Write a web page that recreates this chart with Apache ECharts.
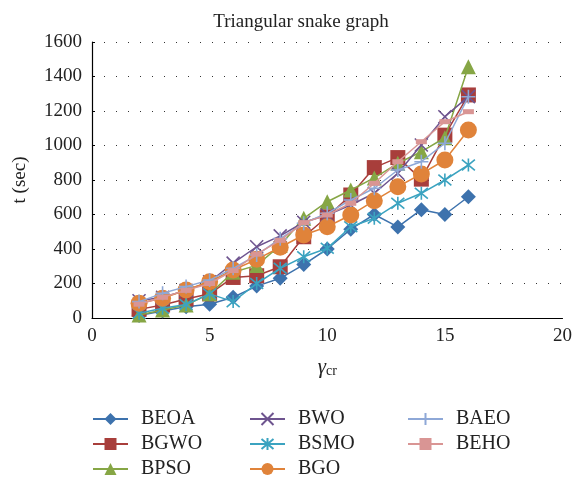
<!DOCTYPE html>
<html><head><meta charset="utf-8">
<script src="https://cdn.jsdelivr.net/npm/echarts@6/dist/echarts.min.js"></script>
<style>html,body{margin:0;padding:0;background:#fff}#c{width:575px;height:480px}</style>
</head><body><div id="c"></div>
<script>
const xValues = [2, 3, 4, 5, 6, 7, 8, 9, 10, 11, 12, 13, 14, 15, 16];
const BEOA = [15, 40, 65, 80, 120, 185, 230, 310, 400, 515, 600, 528, 628, 600, 703];
const BGWO = [50, 75, 110, 140, 235, 245, 297, 471, 587, 713, 872, 930, 805, 1060, 1293];
const BPSO = [17, 46, 75, 140, 265, 305, 420, 578, 674, 742, 812, 897, 964, 1045, 1457];
const BWO = [100, 120, 160, 210, 318, 413, 476, 555, 597, 655, 723, 839, 1003, 1167, 1283];
const BSMO = [27, 56, 78, 140, 95, 200, 288, 355, 404, 529, 578, 665, 723, 800, 887];
const BGO = [85, 114, 162, 210, 278, 340, 410, 481, 529, 597, 680, 761, 835, 916, 1090];
const BAEO = [95, 143, 182, 220, 288, 365, 460, 549, 607, 684, 752, 858, 906, 1013, 1283];
const BEHO = [80, 120, 160, 200, 275, 370, 450, 553, 597, 665, 781, 906, 1022, 1138, 1196];
const seriesNames = ['BEOA', 'BGWO', 'BPSO', 'BWO', 'BSMO', 'BGO', 'BAEO', 'BEHO'];
const seriesData = [BEOA, BGWO, BPSO, BWO, BSMO, BGO, BAEO, BEHO];
const legendColumns = [['BEOA', 'BGWO', 'BPSO'], ['BWO', 'BSMO', 'BGO'], ['BAEO', 'BEHO']];
const titleText = 'Triangular snake graph';

const colors = ['#3d72ad', '#a83e3b', '#86a645', '#6e548f', '#3ba3c0', '#e0833a', '#8ea8d7', '#d99594'];
const symbols = ['diamond', 'rect', 'triangle',
  'path://M0,0L10,10M10,0L0,10',
  'path://M0,0L10,10M10,0L0,10M5,-1L5,11',
  'circle',
  'path://M0,5L10,5M5,0L5,10',
  'rect'];
const sizes = [15, 15, 15, 13, 13, 17, 14, [11, 5]];
const stroked = [false, false, false, true, true, false, true, false];
const FONT = '"Liberation Serif", "DejaVu Serif", serif';

const series = seriesNames.map((n, i) => ({
  name: n, type: 'line',
  data: xValues.map((x, j) => [x, seriesData[i][j]]),
  symbol: symbols[i], symbolSize: sizes[i], showSymbol: true,
  lineStyle: { color: colors[i], width: 1.5 },
  itemStyle: stroked[i]
    ? { color: colors[i], borderColor: colors[i], borderWidth: 1.6 }
    : { color: colors[i] },
  emphasis: { disabled: true },
  z: 2 + i
}));

const legendLefts = [92, 249, 407];
const legends = legendColumns.map((names, k) => ({
  data: names, left: legendLefts[k], top: 409, orient: 'vertical',
  height: 71, padding: 0,
  itemWidth: 35, itemHeight: 15, itemGap: 5,
  textStyle: { fontFamily: FONT, fontSize: 20, lineHeight: 20, color: '#222', padding: [0, 0, 0, 8] },
  selectedMode: false
}));

const chart = echarts.init(document.getElementById('c'), null, { renderer: 'canvas' });
chart.setOption({
  animation: false,
  color: colors,
  title: { text: titleText, left: 296, textAlign: 'center', top: 8,
    textStyle: { fontFamily: FONT, fontSize: 19, fontWeight: 'normal', color: '#222' } },
  grid: { left: 92, right: 10, top: 42, bottom: 162 },
  legend: legends,
  xAxis: {
    type: 'value', min: 0, max: 20, interval: 5,
    axisLine: { show: true, lineStyle: { color: '#000', width: 1.2 } },
    axisTick: { show: false },
    splitLine: { show: false },
    axisLabel: { fontFamily: FONT, fontSize: 19, color: '#222', margin: 9 },
    name: '{g|γ}{s|cr}', nameLocation: 'middle', nameGap: 38,
    nameTextStyle: { rich: {
      g: { fontFamily: FONT, fontStyle: 'italic', fontSize: 21, color: '#222' },
      s: { fontFamily: FONT, fontSize: 14, color: '#222', verticalAlign: 'bottom', padding: [8, 0, 0, 0] } } }
  },
  yAxis: {
    type: 'value', min: 0, max: 1600, interval: 200,
    axisLine: { show: true, lineStyle: { color: '#000', width: 1.2 } },
    axisTick: { show: true, inside: true, length: 3, lineStyle: { color: '#000' } },
    splitLine: { show: true, lineStyle: { color: '#333', type: [1, 11], width: 1 } },
    axisLabel: { fontFamily: FONT, fontSize: 19, color: '#222', margin: 10, formatter: v => String(v) },
    name: 't (sec)', nameLocation: 'middle', nameGap: 62, nameRotate: 90,
    nameTextStyle: { fontFamily: FONT, fontSize: 19, color: '#222' }
  },
  series: series
});
</script></body></html>
